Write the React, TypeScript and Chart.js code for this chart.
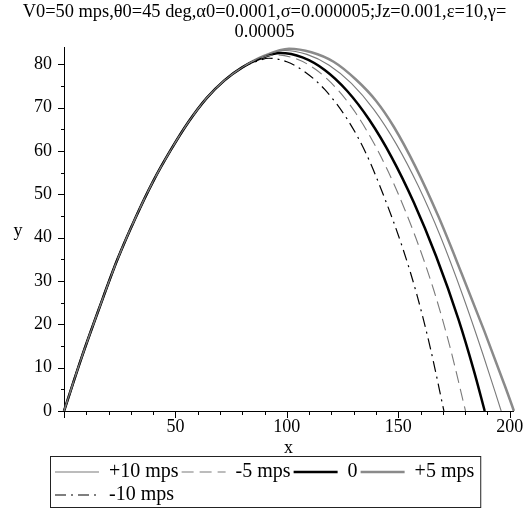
import React, { useEffect, useRef } from 'react';
import { Chart, registerables } from 'chart.js';

Chart.register(...registerables);

const FONT = '"Liberation Serif", "Times New Roman", serif';

const TITLE_LINES = ['V0=50 mps,θ0=45 deg,α0=0.0001,σ=0.000005;Jz=0.001,ε=10,γ=', '0.00005'];
const SERIES_LABELS = ['+10 mps', '-5 mps', '0', '+5 mps', '-10 mps'];
const X_TITLE = 'x';
const Y_TITLE = 'y';

const X_LABEL_TICKS = [0, 50, 100, 150, 200];
const Y_LABEL_TICKS = [0, 10, 20, 30, 40, 50, 60, 70, 80];
const X_TICK_MARKS = [0, 10, 20, 30, 40, 50, 60, 70, 80, 90, 100, 110, 120, 130, 140, 150, 160, 170, 180, 190, 200];
const Y_TICK_MARKS = [0, 5, 10, 15, 20, 25, 30, 35, 40, 45, 50, 55, 60, 65, 70, 75, 80];

// +10 mps
const plus10X = [0, 8, 16, 24, 32, 40, 48, 56, 64, 72, 80, 89, 99, 109, 119, 129, 139, 149, 159, 169, 179, 188, 196.2];
const plus10Y = [0, 12.5, 24, 35, 44.5, 53, 60.3, 66.8, 72.2, 76.3, 79.3, 81.8, 83.2, 82.3, 79.8, 75.6, 69.6, 61.7, 51.9, 40.2, 26.6, 13.1, 0];

// -5 mps
const minus5X = [0, 8, 16, 24, 32, 40, 48, 56, 64, 72, 80, 87, 95, 104, 113, 122, 131, 140, 149, 158, 166, 173, 180.2];
const minus5Y = [0, 12.5, 24, 35, 44.5, 53, 60.3, 66.8, 72.2, 76.3, 79.3, 81.2, 82.2, 81.3, 78.8, 74.6, 68.7, 60.9, 51.3, 39.8, 27.8, 15.2, 0];

// 0
const zeroX = [0, 8, 16, 24, 32, 40, 48, 56, 64, 72, 80, 88, 97, 107, 117, 127, 137, 147, 157, 167, 177, 184, 188.8];
const zeroY = [0, 12.5, 24, 35, 44.5, 53, 60.3, 66.8, 72.2, 76.3, 79.3, 81.3, 82.6, 81.6, 78.7, 73.9, 67.2, 58.6, 48.1, 35.7, 21.2, 9.2, 0];

// +5 mps
const plus5X = [0, 8, 16, 24, 32, 40, 48, 56, 64, 72, 80, 90, 101, 111, 121, 131, 140, 148, 157.7, 168.1, 178.4, 188.6, 197.5, 201.9, 203.9];
const plus5Y = [0, 12.5, 24, 35, 44.5, 53, 60.3, 66.8, 72.2, 76.3, 79.3, 82.0, 83.6, 82.8, 80.6, 76.5, 71.6, 65.6, 56.4, 44.8, 31.8, 18.5, 6.3, 0, -3.2];

// -10 mps
const minus10X = [0, 8, 16, 24, 32, 40, 48, 56, 64, 72, 80, 86, 92, 100, 108, 117, 127.3, 135.5, 143.6, 151.8, 158.6, 164.6, 170.5];
const minus10Y = [0, 12.5, 24, 35, 44.5, 53, 60.3, 66.8, 72.2, 76.3, 79.3, 80.6, 81.4, 80.6, 78.3, 74.2, 67.2, 59.5, 49.5, 37.9, 26.4, 14.1, 0];

const toPoints = (xs: number[], ys: number[]) => xs.map((x, i) => ({ x, y: ys[i] }));

const decorPlugin = {
  id: 'decor',
  beforeDraw(chart: any) {
    const lg = chart.legend;
    if (lg) {
      lg.left = 52;
    }
  },
  afterDraw(chart: any) {
    const ctx = chart.ctx as CanvasRenderingContext2D;
    const xs = chart.scales.x;
    const ys = chart.scales.y;
    const ca = chart.chartArea;
    ctx.save();
    ctx.strokeStyle = '#000';
    ctx.lineWidth = 1;
    ctx.beginPath();
    for (const v of X_TICK_MARKS) {
      const px = Math.round(xs.getPixelForValue(v)) + 0.5;
      const len = v % 50 === 0 ? 7 : 4;
      ctx.moveTo(px, ca.bottom);
      ctx.lineTo(px, ca.bottom + len);
    }
    for (const v of Y_TICK_MARKS) {
      const py = Math.round(ys.getPixelForValue(v)) + 0.5;
      const len = v % 10 === 0 ? 6 : 3;
      ctx.moveTo(ca.left - len, py);
      ctx.lineTo(ca.left, py);
    }
    ctx.stroke();

    ctx.fillStyle = '#000';
    ctx.font = `18px ${FONT}`;
    ctx.textAlign = 'center';
    ctx.textBaseline = 'middle';
    ctx.fillText(Y_TITLE, 18, (ca.top + ca.bottom) / 2 + 2);

    const lg = chart.legend;
    if (lg && lg.lineWidths) {
      ctx.strokeStyle = '#222';
      ctx.strokeRect(lg.left - 1.5, lg.top - 2.5, lg.lineWidths[0] + 8, 51);
    }
    ctx.restore();
  },
};

export default function App() {
  const ref = useRef<HTMLCanvasElement | null>(null);

  useEffect(() => {
    if (!ref.current) return;
    const common = { pointRadius: 0, pointHoverRadius: 0, fill: false, cubicInterpolationMode: 'monotone' as const, clip: false as any };
    const chart = new Chart(ref.current, {
      type: 'line',
      data: {
        datasets: [
          { ...common, label: SERIES_LABELS[0], data: toPoints(plus10X, plus10Y), borderColor: '#7a7a7a', borderWidth: 1.1 },
          { ...common, label: SERIES_LABELS[1], data: toPoints(minus5X, minus5Y), borderColor: '#7a7a7a', borderWidth: 1.1, borderDash: [12, 6] },
          { ...common, label: SERIES_LABELS[2], data: toPoints(zeroX, zeroY), borderColor: '#000000', borderWidth: 2.5 },
          { ...common, label: SERIES_LABELS[3], data: toPoints(plus5X, plus5Y), borderColor: '#8a8a8a', borderWidth: 2.5 },
          { ...common, label: SERIES_LABELS[4], data: toPoints(minus10X, minus10Y), borderColor: '#000000', borderWidth: 1.2, borderDash: [11, 5, 2, 5] },
        ],
      },
      options: {
        responsive: false,
        animation: false,
        events: [],
        layout: { padding: { left: 16, right: 16, top: 0, bottom: -6 } },
        plugins: {
          title: {
            display: true,
            text: TITLE_LINES,
            color: '#000',
            font: { family: FONT, size: 18.4, weight: 'normal', lineHeight: 1.087 },
            padding: { top: 2, bottom: 5 },
          },
          legend: {
            position: 'bottom',
            align: 'start',
            labels: {
              usePointStyle: true,
              pointStyle: 'line',
              pointStyleWidth: 44,
              padding: 3,
              color: '#000',
              font: { family: FONT, size: 20 },
              generateLabels: (chart: any) =>
                chart.data.datasets.map((ds: any, i: number) => ({
                  text: ds.label,
                  fillStyle: ds.borderColor,
                  strokeStyle: ds.borderColor,
                  lineWidth: ds.borderWidth,
                  lineDash: ds.borderDash || [],
                  lineCap: 'butt',
                  pointStyle: 'line',
                  hidden: !chart.isDatasetVisible(i),
                  datasetIndex: i,
                  fontColor: '#000',
                })),
            },
          },
          tooltip: { enabled: false },
        },
        scales: {
          x: {
            type: 'linear',
            min: 0,
            max: 201.5,
            grid: { display: false, drawTicks: false },
            border: { display: true, color: '#000', width: 1 },
            afterBuildTicks: (s: any) => { s.ticks = X_LABEL_TICKS.map((v) => ({ value: v })); },
            ticks: {
              autoSkip: false,
              maxRotation: 0,
              padding: 5,
              color: '#000',
              font: { family: FONT, size: 18 },
              callback: (v: any) => (Number(v) === 0 ? '' : String(v)),
            },
            title: { display: true, text: X_TITLE, color: '#000', font: { family: FONT, size: 18 }, padding: { top: 0, bottom: 0 } },
            afterFit: (s: any) => { s.height = 48; },
          },
          y: {
            type: 'linear',
            min: 0,
            max: 84,
            grid: { display: false, drawTicks: false },
            border: { display: true, color: '#000', width: 1 },
            afterBuildTicks: (s: any) => { s.ticks = Y_LABEL_TICKS.map((v) => ({ value: v })); },
            ticks: {
              autoSkip: false,
              padding: 12,
              color: '#000',
              font: { family: FONT, size: 18 },
            },
            afterFit: (s: any) => { s.width = 48; },
          },
        },
      } as any,
      plugins: [decorPlugin],
    });
    return () => chart.destroy();
  }, []);

  return (
    <div style={{ position: 'absolute', left: 0, top: 0, width: 529, height: 509 }}>
      <canvas ref={ref} width={529} height={509} style={{ display: 'block' }} />
    </div>
  );
}
